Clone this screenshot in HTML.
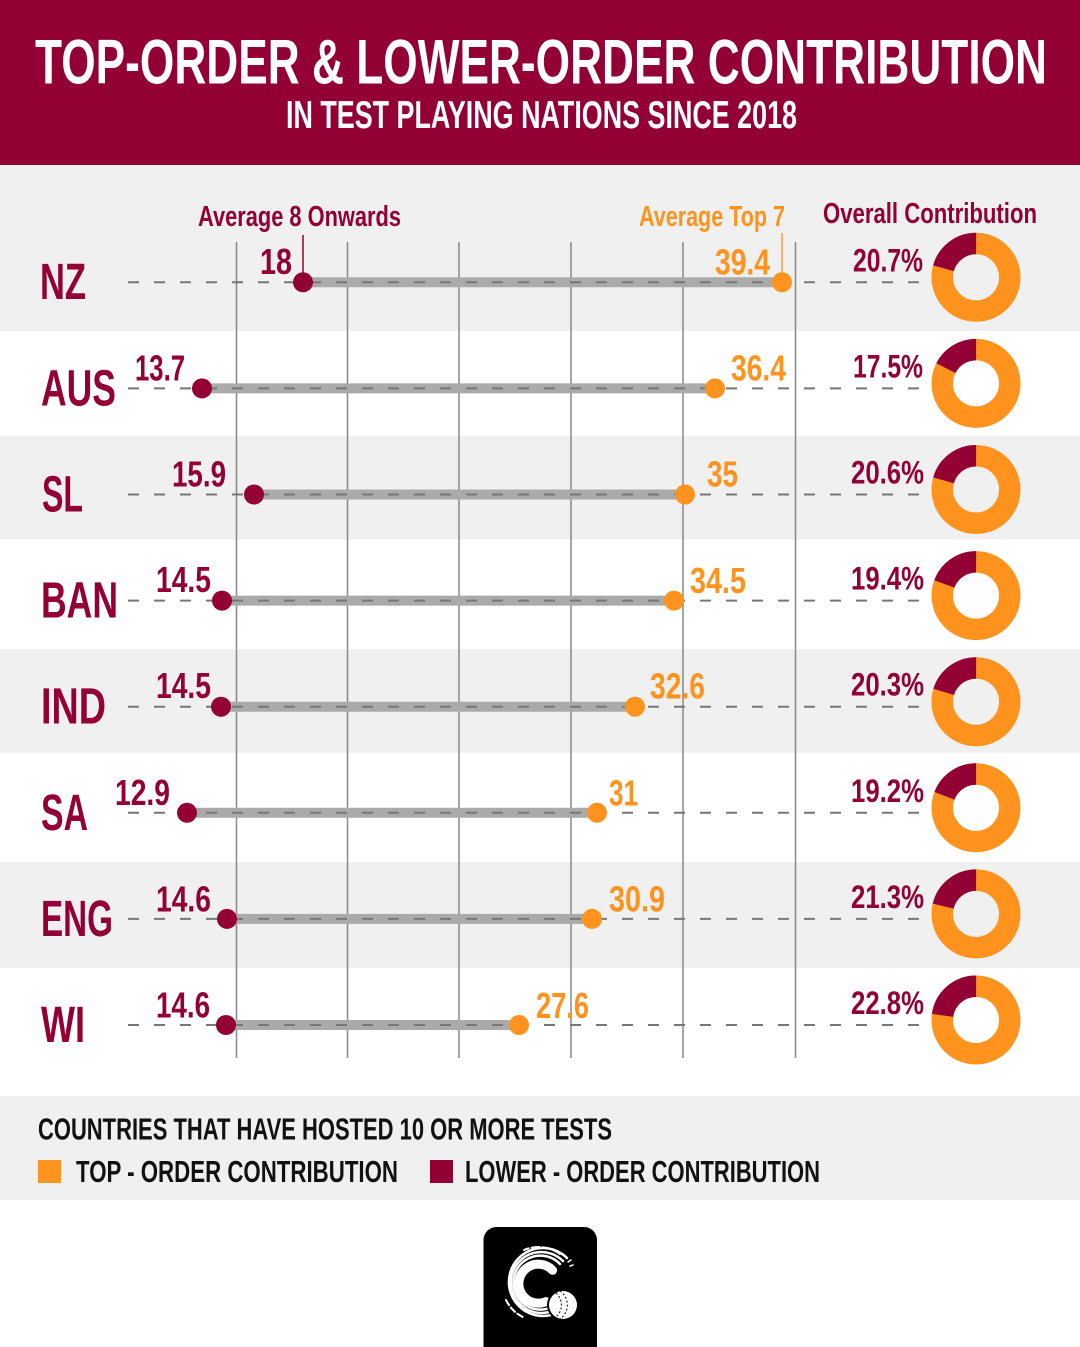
<!DOCTYPE html>
<html>
<head>
<meta charset="utf-8">
<style>
html,body{margin:0;padding:0;background:#fff;}
svg{display:block;}
.b{font-family:"Liberation Sans Narrow","Liberation Sans",sans-serif;font-weight:bold;}
.n{font-family:"Liberation Sans Narrow","Liberation Sans",sans-serif;font-weight:bold;}
</style>
</head>
<body>
<svg width="1080" height="1347" viewBox="0 0 1080 1347" xmlns="http://www.w3.org/2000/svg">
  <!-- backgrounds -->
  <rect x="0" y="0" width="1080" height="1347" fill="#ffffff"/>
  <rect x="0" y="0" width="1080" height="165" fill="#920034"/>
  <rect x="0" y="165" width="1080" height="166" fill="#f0f0f0"/>
  <rect x="0" y="436" width="1080" height="103.5" fill="#f0f0f0"/>
  <rect x="0" y="649" width="1080" height="103.7" fill="#f0f0f0"/>
  <rect x="0" y="862" width="1080" height="106" fill="#f0f0f0"/>
  <rect x="0" y="1096" width="1080" height="104" fill="#f0f0f0"/>

  <!-- header -->
  <text class="b" x="35" y="83.5" font-size="63" fill="#ffffff" textLength="1012" lengthAdjust="spacingAndGlyphs">TOP-ORDER &amp; LOWER-ORDER CONTRIBUTION</text>
  <text class="n" x="286" y="128" font-size="39" fill="#ffffff" textLength="511" lengthAdjust="spacingAndGlyphs">IN TEST PLAYING NATIONS SINCE 2018</text>

  <!-- column headers -->
  <text class="b" x="198" y="226" font-size="29" fill="#920034" textLength="203" lengthAdjust="spacingAndGlyphs">Average 8 Onwards</text>
  <text class="b" x="639" y="226" font-size="29" fill="#ff931e" textLength="146" lengthAdjust="spacingAndGlyphs">Average Top 7</text>
  <text class="b" x="823" y="223" font-size="29" fill="#920034" textLength="214" lengthAdjust="spacingAndGlyphs">Overall Contribution</text>

  <!-- gridlines -->
  <g stroke="#888888" stroke-width="1.5">
    <line x1="236.5" y1="242" x2="236.5" y2="1058"/>
    <line x1="347.5" y1="242" x2="347.5" y2="1058"/>
    <line x1="459" y1="242" x2="459" y2="1058"/>
    <line x1="571" y1="242" x2="571" y2="1058"/>
    <line x1="683" y1="242" x2="683" y2="1058"/>
    <line x1="795.5" y1="242" x2="795.5" y2="1058"/>
  </g>

  <!-- lead lines NZ -->
  <line x1="303" y1="235" x2="303" y2="282" stroke="#920034" stroke-width="1.5"/>
  <line x1="782" y1="233" x2="782" y2="282" stroke="#ffb266" stroke-width="2"/>

  <!-- bars -->
  <g stroke="#aaaaaa" stroke-width="10">
    <line x1="303" y1="282.3" x2="782" y2="282.3"/>
    <line x1="202" y1="388.4" x2="715" y2="388.4"/>
    <line x1="254" y1="494.5" x2="685" y2="494.5"/>
    <line x1="222" y1="600.6" x2="674" y2="600.6"/>
    <line x1="221" y1="706.7" x2="635" y2="706.7"/>
    <line x1="187" y1="812.8" x2="597" y2="812.8"/>
    <line x1="227" y1="918.9" x2="592" y2="918.9"/>
    <line x1="226" y1="1025" x2="519" y2="1025"/>
  </g>

  <!-- dashed lines -->
  <g stroke="#777777" stroke-width="2" stroke-dasharray="11 15">
    <line x1="128" y1="282.3" x2="924" y2="282.3"/>
    <line x1="128" y1="388.4" x2="924" y2="388.4"/>
    <line x1="128" y1="494.5" x2="924" y2="494.5"/>
    <line x1="128" y1="600.6" x2="924" y2="600.6"/>
    <line x1="128" y1="706.7" x2="924" y2="706.7"/>
    <line x1="128" y1="812.8" x2="924" y2="812.8"/>
    <line x1="128" y1="918.9" x2="924" y2="918.9"/>
    <line x1="128" y1="1025" x2="924" y2="1025"/>
  </g>

  <!-- dots -->
  <g fill="#920034">
    <circle cx="303" cy="282.3" r="10"/>
    <circle cx="202" cy="388.4" r="10"/>
    <circle cx="254" cy="494.5" r="10"/>
    <circle cx="222" cy="600.6" r="10"/>
    <circle cx="221" cy="706.7" r="10"/>
    <circle cx="187" cy="812.8" r="10"/>
    <circle cx="227" cy="918.9" r="10"/>
    <circle cx="226" cy="1025" r="10"/>
  </g>
  <g fill="#ff931e">
    <circle cx="782" cy="282.3" r="10"/>
    <circle cx="715" cy="388.4" r="10"/>
    <circle cx="685" cy="494.5" r="10"/>
    <circle cx="674" cy="600.6" r="10"/>
    <circle cx="635" cy="706.7" r="10"/>
    <circle cx="597" cy="812.8" r="10"/>
    <circle cx="592" cy="918.9" r="10"/>
    <circle cx="519" cy="1025" r="10"/>
  </g>

  <!-- country labels -->
  <g class="b" font-size="51" fill="#920034">
    <text x="40" y="299" textLength="46" lengthAdjust="spacingAndGlyphs">NZ</text>
    <text x="41" y="405.4" textLength="75" lengthAdjust="spacingAndGlyphs">AUS</text>
    <text x="42" y="511.5" textLength="41" lengthAdjust="spacingAndGlyphs">SL</text>
    <text x="41" y="617.6" textLength="77" lengthAdjust="spacingAndGlyphs">BAN</text>
    <text x="41" y="723.7" textLength="65" lengthAdjust="spacingAndGlyphs">IND</text>
    <text x="41" y="829.8" textLength="47" lengthAdjust="spacingAndGlyphs">SA</text>
    <text x="41" y="935.9" textLength="72" lengthAdjust="spacingAndGlyphs">ENG</text>
    <text x="41" y="1042" textLength="44" lengthAdjust="spacingAndGlyphs">WI</text>
  </g>

  <!-- lower-order values -->
  <g class="b" font-size="36" fill="#920034">
    <text x="260" y="274" textLength="32" lengthAdjust="spacingAndGlyphs">18</text>
    <text x="135" y="380.4" textLength="50" lengthAdjust="spacingAndGlyphs">13.7</text>
    <text x="172" y="486.5" textLength="54" lengthAdjust="spacingAndGlyphs">15.9</text>
    <text x="156" y="592.1" textLength="55" lengthAdjust="spacingAndGlyphs">14.5</text>
    <text x="156" y="698.2" textLength="55" lengthAdjust="spacingAndGlyphs">14.5</text>
    <text x="115" y="805" textLength="55" lengthAdjust="spacingAndGlyphs">12.9</text>
    <text x="156" y="911.4" textLength="55" lengthAdjust="spacingAndGlyphs">14.6</text>
    <text x="156" y="1017.5" textLength="54" lengthAdjust="spacingAndGlyphs">14.6</text>
  </g>

  <!-- top-order values -->
  <g class="b" font-size="36" fill="#ff931e">
    <text x="715" y="274.5" textLength="55" lengthAdjust="spacingAndGlyphs">39.4</text>
    <text x="731" y="380.6" textLength="55" lengthAdjust="spacingAndGlyphs">36.4</text>
    <text x="707" y="486.7" textLength="31" lengthAdjust="spacingAndGlyphs">35</text>
    <text x="690" y="592.8" textLength="56" lengthAdjust="spacingAndGlyphs">34.5</text>
    <text x="650" y="698.5" textLength="55" lengthAdjust="spacingAndGlyphs">32.6</text>
    <text x="609" y="805.3" textLength="29" lengthAdjust="spacingAndGlyphs">31</text>
    <text x="609" y="911.6" textLength="56" lengthAdjust="spacingAndGlyphs">30.9</text>
    <text x="536" y="1017.8" textLength="53" lengthAdjust="spacingAndGlyphs">27.6</text>
  </g>

  <!-- percentages -->
  <g class="b" font-size="32" fill="#920034">
    <text x="853" y="271.3" textLength="70" lengthAdjust="spacingAndGlyphs">20.7%</text>
    <text x="853" y="377.4" textLength="70" lengthAdjust="spacingAndGlyphs">17.5%</text>
    <text x="851" y="483.5" textLength="73" lengthAdjust="spacingAndGlyphs">20.6%</text>
    <text x="851" y="589.6" textLength="73" lengthAdjust="spacingAndGlyphs">19.4%</text>
    <text x="851" y="695.7" textLength="73" lengthAdjust="spacingAndGlyphs">20.3%</text>
    <text x="851" y="801.8" textLength="73" lengthAdjust="spacingAndGlyphs">19.2%</text>
    <text x="851" y="907.9" textLength="73" lengthAdjust="spacingAndGlyphs">21.3%</text>
    <text x="851" y="1014" textLength="73" lengthAdjust="spacingAndGlyphs">22.8%</text>
  </g>

  <!-- donuts -->
  <g fill="none" stroke-width="21.5">
    <circle cx="976" cy="277.3" r="33.75" stroke="#ff931e"/>
    <circle cx="976" cy="277.3" r="33.75" stroke="#920034" stroke-dasharray="43.90 300" transform="rotate(-164.52 976 277.3)"/>

    <circle cx="976" cy="383.4" r="33.75" stroke="#ff931e"/>
    <circle cx="976" cy="383.4" r="33.75" stroke="#920034" stroke-dasharray="37.11 300" transform="rotate(-153 976 383.4)"/>

    <circle cx="976" cy="489.5" r="33.75" stroke="#ff931e"/>
    <circle cx="976" cy="489.5" r="33.75" stroke="#920034" stroke-dasharray="43.68 300" transform="rotate(-164.16 976 489.5)"/>

    <circle cx="976" cy="595.6" r="33.75" stroke="#ff931e"/>
    <circle cx="976" cy="595.6" r="33.75" stroke="#920034" stroke-dasharray="41.14 300" transform="rotate(-159.84 976 595.6)"/>

    <circle cx="976" cy="701.7" r="33.75" stroke="#ff931e"/>
    <circle cx="976" cy="701.7" r="33.75" stroke="#920034" stroke-dasharray="43.05 300" transform="rotate(-163.08 976 701.7)"/>

    <circle cx="976" cy="807.8" r="33.75" stroke="#ff931e"/>
    <circle cx="976" cy="807.8" r="33.75" stroke="#920034" stroke-dasharray="40.72 300" transform="rotate(-159.12 976 807.8)"/>

    <circle cx="976" cy="913.9" r="33.75" stroke="#ff931e"/>
    <circle cx="976" cy="913.9" r="33.75" stroke="#920034" stroke-dasharray="45.17 300" transform="rotate(-166.68 976 913.9)"/>

    <circle cx="976" cy="1020" r="33.75" stroke="#ff931e"/>
    <circle cx="976" cy="1020" r="33.75" stroke="#920034" stroke-dasharray="48.35 300" transform="rotate(-172.08 976 1020)"/>
  </g>

  <!-- footer -->
  <text class="n" x="38" y="1139.5" font-size="31" fill="#111111" textLength="574" lengthAdjust="spacingAndGlyphs">COUNTRIES THAT HAVE HOSTED 10 OR MORE TESTS</text>
  <rect x="38" y="1160" width="23" height="23" fill="#ff931e"/>
  <text class="n" x="76" y="1182" font-size="31" fill="#111111" textLength="322" lengthAdjust="spacingAndGlyphs">TOP - ORDER CONTRIBUTION</text>
  <rect x="430" y="1160" width="23" height="23" fill="#920034"/>
  <text class="n" x="465" y="1182" font-size="31" fill="#111111" textLength="355" lengthAdjust="spacingAndGlyphs">LOWER - ORDER CONTRIBUTION</text>

  <!-- logo -->
  <rect x="483.5" y="1227" width="113.5" height="140" rx="13" ry="13" fill="#000000"/>
  <g fill="none" stroke="#ffffff" stroke-linecap="round">
    <!-- solid inner ring r 15-24 -->
    <path d="M552.6 1270.3 A19.5 19.5 0 1 0 546 1301.6" stroke-width="9"/>
    <!-- striped outer arcs -->
    <path d="M560 1264 A27 27 0 1 0 548 1308.5" stroke-width="2.5"/>
    <path d="M563 1261 A30.5 30.5 0 1 0 549 1312" stroke-width="2.5"/>
    <path d="M567 1258 A34 34 0 1 0 551 1315" stroke-width="2.5"/>
    <path d="M560 1254 A36.5 36.5 0 0 0 524 1250" stroke-width="2" stroke-dasharray="8 3"/>
    <path d="M506 1300 A36.5 36.5 0 0 0 525 1318" stroke-width="2" stroke-dasharray="6 3"/>
    <path d="M568 1262 L571 1260 M570 1266 L573 1265" stroke-width="1.5"/>
  </g>
  <circle cx="563" cy="1305" r="16" fill="#000000"/>
  <circle cx="563" cy="1305" r="14" fill="#ffffff"/>
  <path d="M556 1293 A16 16 0 0 1 556 1317" fill="none" stroke="#000000" stroke-width="1" stroke-dasharray="2 2"/>
  <path d="M560 1291 A17 17 0 0 1 560 1319" fill="none" stroke="#000000" stroke-width="1" stroke-dasharray="2 2"/>
</svg>
</body>
</html>
